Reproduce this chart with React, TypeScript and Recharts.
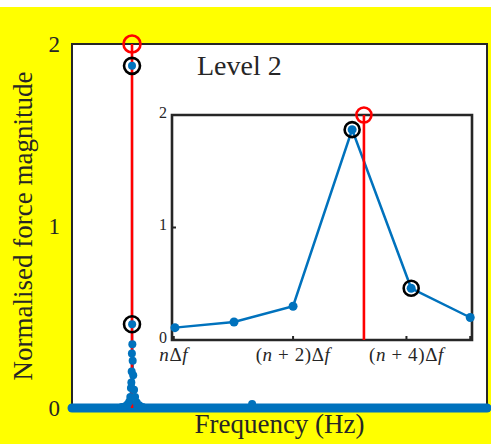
import { ComposedChart, Line, Scatter, XAxis, YAxis, CartesianGrid, ReferenceArea, Label } from 'recharts';

const BLUE = '#0072BD';
const RED = '#FF0000';
const INK = '#262626';
const SERIF = "'Liberation Serif', 'Times New Roman', serif";

// main spectrum (frequency in Hz, normalised magnitude)
const specFreq = [0, 100, 120, 128, 134, 138, 140.5, 142, 143, 143.8, 144.3, 144.6, 144.9, 145.4, 146.2, 147.5, 149.5, 152, 156, 162, 170, 200, 420, 434, 448, 1000];
const specMag = [0, 0, 0.005, 0.01, 0.02, 0.035, 0.06, 0.11, 0.14, 0.2, 0.3, 1.88, 0.46, 0.35, 0.26, 0.18, 0.1, 0.06, 0.03, 0.015, 0.005, 0, 0, 0.022, 0, 0];
const baseFreq = [0, 1000];
const baseMag = [0, 0];

const forcingFreq = 144.6;
const markMag = [1.88, 0.46];
const levelMag = 2;

// inset: six bins around the peak
const binIdx = [0, 1, 2, 3, 4, 5];
const binMag = [0.11, 0.16, 0.3, 1.87, 0.46, 0.2];
const insetMarkIdx = [3, 4];
const insetForcing = 3.2;
const insetTicks = [-0.02, 2, 3.92, 5];
const insetTickLabels = ['nΔf', '(n + 2)Δf', '(n + 4)Δf', ''];

const mainData = specFreq.map((f, i) => ({ f, m: specMag[i] }));
const baseData = baseFreq.map((f, i) => ({ f, m: baseMag[i] }));
const redLine = [{ f: forcingFreq, m: 0 }, { f: forcingFreq, m: levelMag }];
const markData = markMag.map((m) => ({ f: forcingFreq, m }));
const levelData = [{ f: forcingFreq, m: levelMag }];

const insetData = binIdx.map((x, i) => ({ x, m: binMag[i] }));
const insetMarks = insetMarkIdx.map((i) => ({ x: binIdx[i], m: binMag[i] }));
const insetRed = [{ x: insetForcing, m: 0 }, { x: insetForcing, m: levelMag }];
const insetLevel = [{ x: insetForcing, m: levelMag }];

const ring = (color: string, r: number) => (props: any) => {
  const { cx, cy } = props;
  if (cx == null || cy == null) return null;
  return <circle cx={cx} cy={cy} r={r} fill="none" stroke={color} strokeWidth={2.6} />;
};

const InsetTick = (props: any) => {
  const { x, y, payload } = props;
  const lbl = insetTickLabels[insetTicks.indexOf(payload.value)];
  if (!lbl) return null;
  return (
    <text x={x} y={y} dy="0.71em" textAnchor="middle" fontSize={19} letterSpacing={0.6} fill={INK} fontFamily={SERIF}>
      {lbl.split('').map((c, i) => (
        <tspan key={i} fontStyle={c === 'n' || c === 'f' ? 'italic' : 'normal'}>{c}</tspan>
      ))}
    </text>
  );
};

const YLabel = (props: any) => {
  const { viewBox } = props;
  const x = viewBox.x + 23;
  const y = viewBox.y + viewBox.height / 2;
  return (
    <text x={x} y={y} transform={`rotate(-90 ${x} ${y})`} textAnchor="middle" dominantBaseline="central" fontSize={27} fill={INK} fontFamily={SERIF}>
      Normalised force magnitude
    </text>
  );
};

export default function App() {
  return (
    <div style={{ position: 'fixed', left: 0, top: 0, width: 491, height: 444, background: '#fff' }}>
      <div style={{ position: 'absolute', left: 0, top: 7, width: 491, height: 437, background: '#FFFF00' }}>
        <ComposedChart width={491} height={437} margin={{ top: 37, right: 4, bottom: 0, left: 0 }}>
          <CartesianGrid fill="#fff" horizontal={false} vertical={false} />
          <XAxis type="number" dataKey="f" domain={[0, 1000]} tick={false} tickLine={false} axisLine={false} height={36}>
            <Label value="Frequency (Hz)" position="insideBottom" offset={11} fontSize={27} fill={INK} fontFamily={SERIF} />
          </XAxis>
          <YAxis
            type="number"
            dataKey="m"
            domain={[0, 2]}
            ticks={[0, 1, 2]}
            width={72}
            tickLine={false}
            axisLine={false}
            tickMargin={6}
            tick={{ fontSize: 23, fill: INK, fontFamily: SERIF }}
          >
            <Label content={<YLabel />} />
          </YAxis>
          <ReferenceArea x1={0} x2={1000} y1={0} y2={2} fill="none" stroke={INK} strokeWidth={2} />
          <Line data={baseData} dataKey="m" stroke={BLUE} strokeWidth={9} strokeLinecap="round" dot={false} isAnimationActive={false} />
          <Line
            data={mainData}
            dataKey="m"
            stroke={BLUE}
            strokeWidth={2}
            dot={{ r: 4, fill: BLUE, stroke: BLUE, strokeWidth: 0 }}
            isAnimationActive={false}
          />
          <Line data={redLine} dataKey="m" stroke={RED} strokeWidth={2.6} dot={false} isAnimationActive={false} />
          <Scatter data={markData} dataKey="m" shape={ring('#000', 8)} isAnimationActive={false} />
          <Scatter data={levelData} dataKey="m" shape={ring(RED, 8.5)} isAnimationActive={false} />
        </ComposedChart>
      </div>

      <div style={{ position: 'absolute', left: 197, top: 52, fontFamily: SERIF, fontSize: 28, lineHeight: 1, color: INK, whiteSpace: 'nowrap' }}>
        Level 2
      </div>

      <div style={{ position: 'absolute', left: 140, top: 100 }}>
        <ComposedChart width={337} height={265} margin={{ top: 15, right: 5, bottom: 0, left: 2 }}>
          <XAxis
            type="number"
            dataKey="x"
            domain={[-0.05, 5.03]}
            ticks={insetTicks}
            height={25}
            axisLine={false}
            tickSize={-4}
            tickMargin={12}
            tickLine={{ stroke: INK, strokeWidth: 2 }}
            tick={<InsetTick />}
            interval={0}
          />
          <XAxis
            xAxisId="top"
            orientation="top"
            type="number"
            domain={[-0.05, 5.03]}
            ticks={insetTicks}
            height={0}
            axisLine={false}
            tickSize={-4}
            tickLine={{ stroke: INK, strokeWidth: 2 }}
            tick={false}
            interval={0}
          />
          <YAxis
            type="number"
            dataKey="m"
            domain={[0, 2]}
            ticks={[0, 1, 2]}
            width={30}
            axisLine={false}
            tickSize={-4}
            tickMargin={9}
            tickLine={{ stroke: INK, strokeWidth: 2 }}
            tick={{ fontSize: 16, fill: INK, fontFamily: SERIF, dy: -3 }}
          />
          <YAxis
            yAxisId="right"
            orientation="right"
            type="number"
            domain={[0, 2]}
            ticks={[0, 1, 2]}
            width={0}
            axisLine={false}
            tickSize={-4}
            tickLine={{ stroke: INK, strokeWidth: 2 }}
            tick={false}
          />
          <ReferenceArea x1={-0.05} x2={5.03} y1={0} y2={2} fill="none" stroke={INK} strokeWidth={2.6} />
          <Line
            data={insetData}
            dataKey="m"
            stroke={BLUE}
            strokeWidth={2.5}
            dot={{ r: 4.5, fill: BLUE, stroke: BLUE, strokeWidth: 0 }}
            isAnimationActive={false}
          />
          <Line data={insetRed} dataKey="m" stroke={RED} strokeWidth={2.6} dot={false} isAnimationActive={false} />
          <Scatter data={insetMarks} dataKey="m" shape={ring('#000', 7.5)} isAnimationActive={false} />
          <Scatter data={insetLevel} dataKey="m" shape={ring(RED, 7.5)} isAnimationActive={false} />
        </ComposedChart>
      </div>
    </div>
  );
}
